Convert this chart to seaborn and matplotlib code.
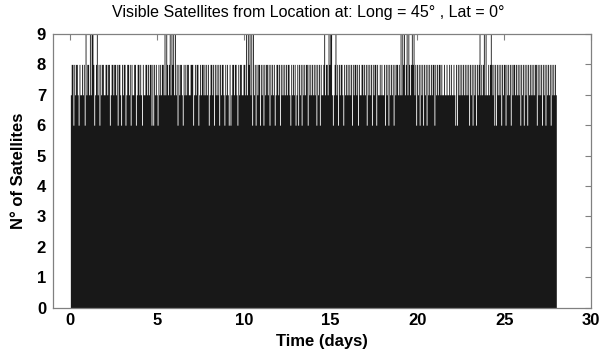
import numpy as np
import pandas as pd
import matplotlib
matplotlib.use("Agg")
import matplotlib.pyplot as plt
import seaborn as sns

# Number of visible satellites, one string per day, one digit every 0.05 day
daily_counts = [
    "78868 78876 87787 86978",
    "87979 98678 97868 78877",
    "88788 67887 88786 88768",
    "78867 88786 87788 67887",
    "87687 78878 78868 68787",
    "68787 88797 98789 79897",
    "97868 78876 87878 87788",
    "86787 88678 78878 78786",
    "78878 68787 86878 87687",
    "87686 78878 87687 88778",
    "87979 89796 97868 78868",
    "78687 88786 87878 67887",
    "86878 78787 88768 78786",
    "78687 86878 78868 78787",
    "87868 78687 78978 87989",
    "97678 97868 78876 87878",
    "78786 87887 86877 88787",
    "86878 78687 88687 78787",
    "78687 86878 78687 88787",
    "97989 78979 87898 97868",
    "78687 86878 68787 87886",
    "87878 87877 87787 78787",
    "78768 68787 87878 78786",
    "87868 78687 89787 89797",
    "78789 87868 68787 86878",
    "86878 78687 88787 87868",
    "78687 86878 78787 88687",
    "87868 78687 87868 78787",
]
step_days = 0.05
x_ticks = [0, 5, 10, 15, 20, 25, 30]
y_ticks = list(range(10))

counts = np.array([int(c) for row in daily_counts for c in row.replace(" ", "")])
n = len(counts)
t_mid = (np.arange(n) + 0.5) * step_days
df = pd.DataFrame({"time": t_mid, "sats": counts})

sns.set_theme(style="white")
plt.rcParams["font.family"] = ["Liberation Sans", "DejaVu Sans"]
plt.rcParams["text.color"] = "black"
plt.rcParams["axes.labelcolor"] = "black"

fig = plt.figure(figsize=(6.05, 3.56), dpi=100)
ax = fig.add_axes([0.0876, 0.1362, 0.8893, 0.7683])

sns.histplot(data=df, x="time", weights="sats", bins=n,
             binrange=(0, n * step_days), element="step",
             fill=True, color="#181818", alpha=1, linewidth=0, ax=ax)

ax.set_xlim(-1, 30)
ax.set_ylim(0, 9)
ax.set_xticks(x_ticks)
ax.set_yticks(y_ticks)

spine_col = "#808080"
for s in ax.spines.values():
    s.set_color(spine_col)
    s.set_linewidth(0.9)
    s.set_visible(True)

ax.tick_params(direction="in", length=4, width=0.8, color=spine_col,
               top=True, right=True, labelsize=12, labelcolor="black")
ax.tick_params(axis="x", pad=4)
ax.tick_params(axis="y", pad=5)
plt.setp(ax.get_xticklabels(), fontweight="bold")
plt.setp(ax.get_yticklabels(), fontweight="bold")

ax.set_xlabel("Time (days)", fontsize=12, fontweight="bold", labelpad=4,
              color="black")
ax.set_ylabel("N° of Satellites", fontsize=12, fontweight="bold", labelpad=8,
              color="black")
ax.set_title("Visible Satellites from Location at: Long = 45° , Lat = 0°",
             fontsize=11.5, x=0.475, pad=12, color="black")

fig.savefig("out.png", dpi=100)
